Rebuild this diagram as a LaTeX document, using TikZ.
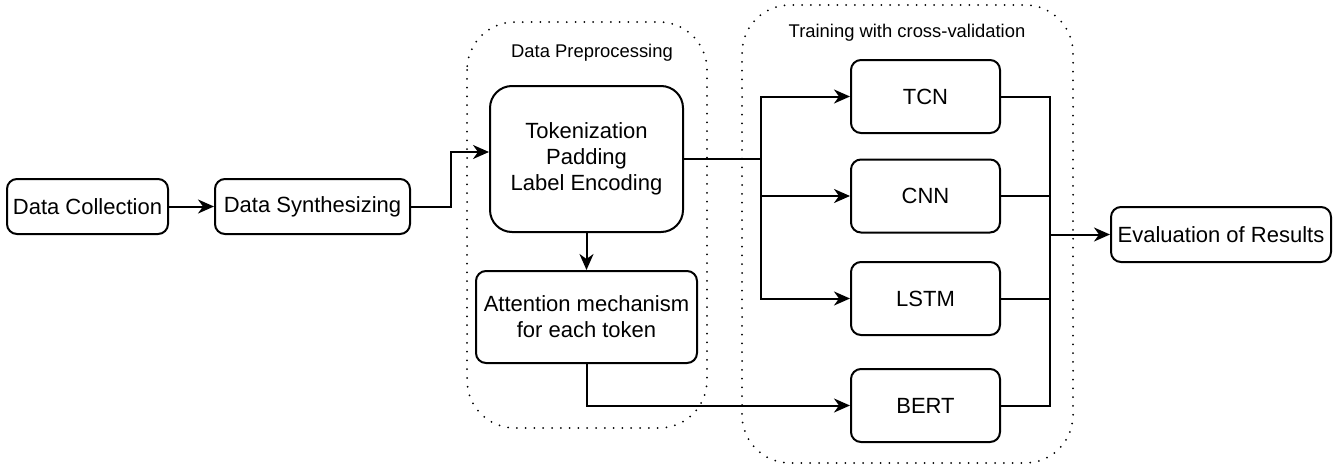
\documentclass[tikz,border=0pt]{standalone}
\usepackage{fontspec}
\setmainfont{Liberation Sans}
\usetikzlibrary{positioning,calc,arrows.meta}

\begin{document}
\begin{tikzpicture}[x=0.5pt,y=-0.5pt,
	box/.style={draw,line width=1pt,rounded corners=5pt,align=center,
		font=\fontsize{11}{13}\selectfont,inner sep=1pt},
	group/.style={draw,line width=1pt,line cap=round,dash pattern=on 0pt off 4.4pt,rounded corners=24pt},
	grouplabel/.style={font=\fontsize{9.2}{10}\selectfont},
	link/.style={line width=1pt,-{Stealth[length=8pt,width=7pt,inset=2.5pt]}},
	plain/.style={line width=1pt}]

\useasboundingbox (0,0) rectangle (1342,466);

% dotted groups
\draw[group] (467,22) rectangle (707,428);
\draw[group] (742,5) rectangle (1073,463);
\node[grouplabel] (preplabel) at (592,53) {Data Preprocessing};
\node[grouplabel] (trainlabel) at (907,33) {Training with cross-validation};

% boxes
\node[box,minimum width=80.5pt,minimum height=27.5pt] (dc) at (87.5,206.5) {Data Collection};
\node[box,minimum width=97.5pt,minimum height=27.5pt] (ds) at (312.5,206.5) {Data Synthesizing};
\node[box,rounded corners=11pt,minimum width=96.5pt,minimum height=73pt] (tok) at (586.5,159)
	{Tokenization\\Padding\\Label Encoding};
\node[box,minimum width=110.5pt,minimum height=46pt] (att) at (586.5,317)
	{Attention mechanism\\for each token};
\foreach \n/\t/\y in {tcn/TCN/96.5,cnn/CNN/196,lstm/LSTM/298.5,bert/BERT/405.5}
	\node[box,minimum width=74.5pt,minimum height=36.5pt] (\n) at (925.5,\y) {\t};
\node[box,minimum width=110pt,minimum height=27.5pt] (eval) at (1221,234.5) {Evaluation of Results};

\coordinate (split) at (761,159);
\coordinate (merge) at (1050,234.5);

% connectors
\draw[link] (dc) -- (ds);
\draw[link] (ds.east) -- ($(ds.east)+(40,0)$) |- ($(tok.west)+(0,-7)$);
\draw[link] (tok) -- (att);
\draw[plain] (tok.east) -- (split);
\foreach \n in {tcn,cnn,lstm}
	\draw[link] (split) |- (\n.west);
\draw[link] (att.south) |- (bert.west);
\foreach \n in {tcn,cnn,lstm,bert}
	\draw[plain] (\n.east) -| (merge);
\draw[link] (merge) -- (eval.west);
\end{tikzpicture}
\end{document}
